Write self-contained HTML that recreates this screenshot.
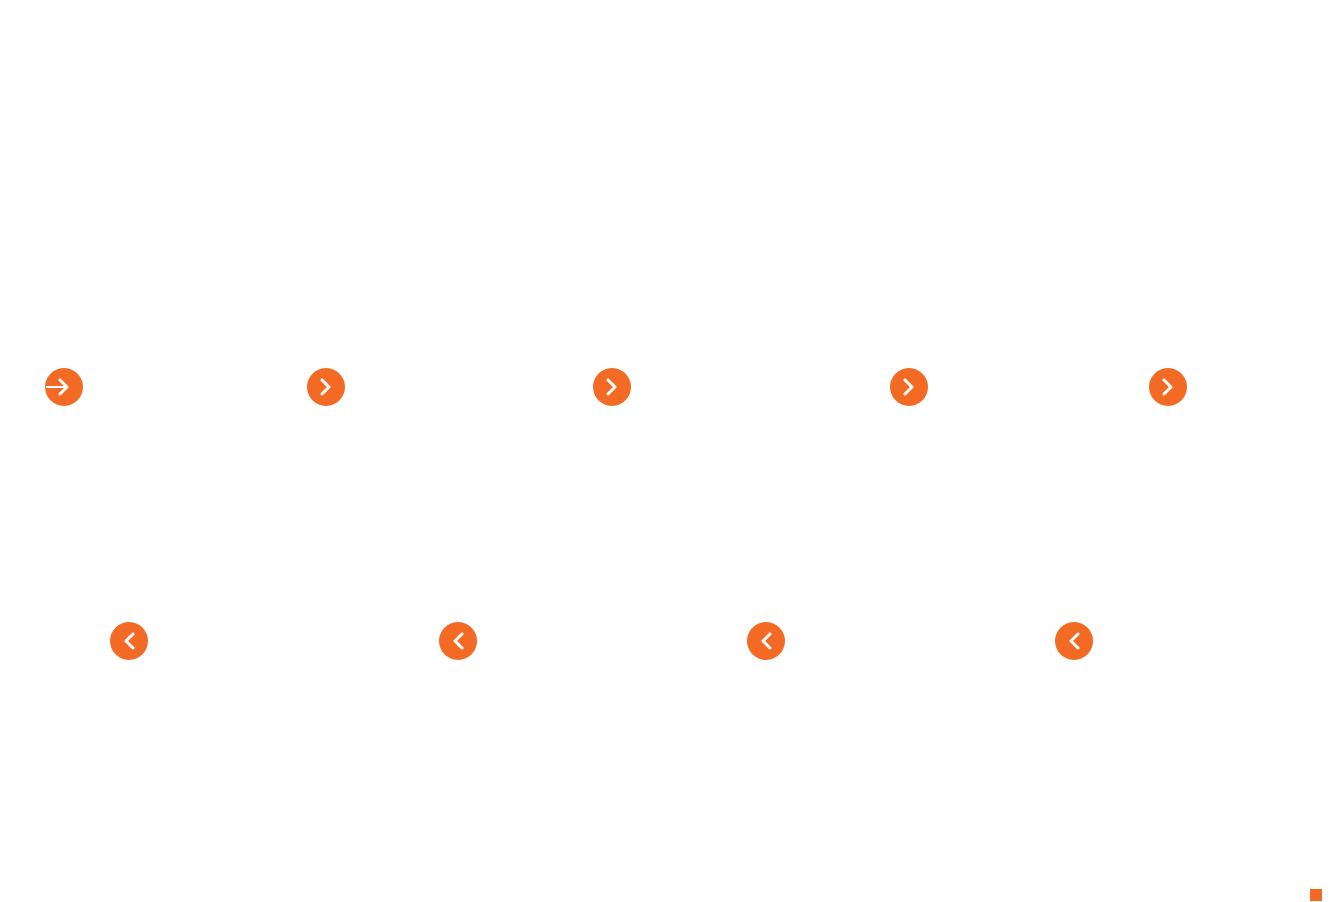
<!DOCTYPE html>
<html><head><style>html,body{margin:0;padding:0;background:#fff;width:1341px;height:902px;overflow:hidden}</style></head>
<body>
<svg width="1341" height="902" xmlns="http://www.w3.org/2000/svg">
<defs>
<g id="r"><circle r="19" fill="#F26A24"/><path d="M-4,-7 L3,0 L-4,7" fill="none" stroke="#fff" stroke-width="3" stroke-linecap="round" stroke-linejoin="round"/></g>
<g id="l"><circle r="19" fill="#F26A24"/><path d="M4,-7 L-3,0 L4,7" fill="none" stroke="#fff" stroke-width="3" stroke-linecap="round" stroke-linejoin="round"/></g>
</defs>
<use href="#r" x="64" y="387"/>
<line x1="46" y1="387" x2="66" y2="387" stroke="#fff" stroke-width="2"/>
<use href="#r" x="326" y="387"/>
<use href="#r" x="612" y="387"/>
<use href="#r" x="909" y="387"/>
<use href="#r" x="1168" y="387"/>
<use href="#l" x="129" y="641"/>
<use href="#l" x="458" y="641"/>
<use href="#l" x="766" y="641"/>
<use href="#l" x="1074" y="641"/>
<rect x="1310" y="889" width="12" height="12" fill="#F26A24"/>
</svg>
</body></html>
